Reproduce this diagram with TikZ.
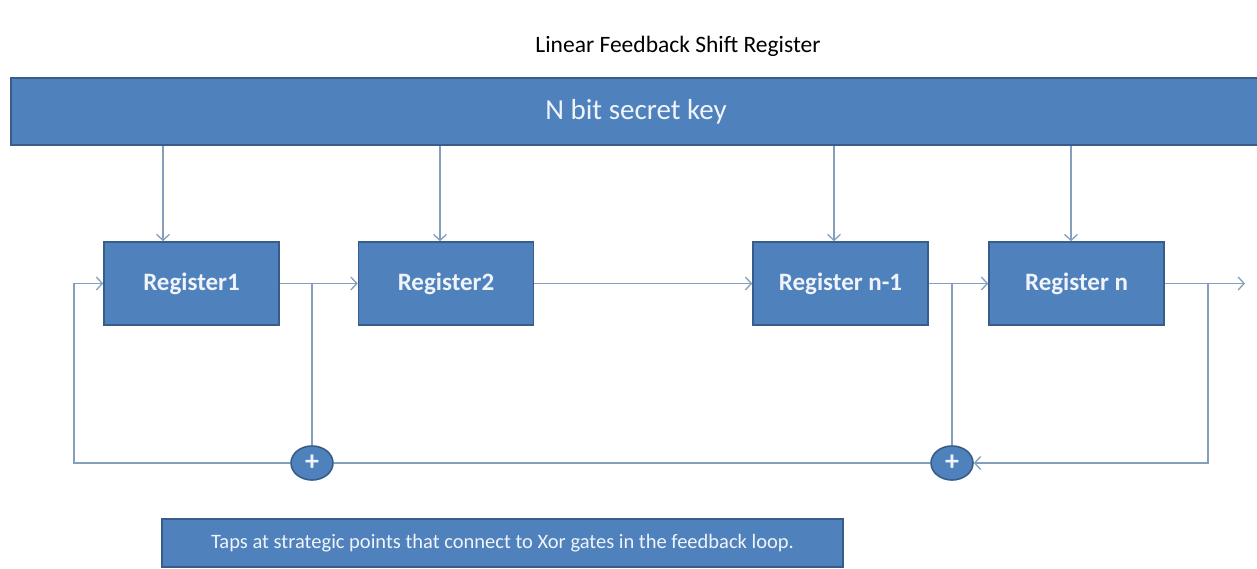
\documentclass[tikz,border=0pt]{standalone}
\usepackage{fontspec}
\setmainfont{Carlito}
\usetikzlibrary{arrows.meta,positioning,calc,shapes.geometric}
\definecolor{cFill}{RGB}{79,129,189}
\definecolor{cEdge}{RGB}{56,93,138}
\definecolor{cLine}{RGB}{132,158,188}
\definecolor{cText}{RGB}{240,244,250}
\tikzset{
  >={Straight Barb[length=6pt,width=13pt]},
  blk/.style={draw=cEdge,fill=cFill,line width=1.6pt,text=cText,inner sep=0pt},
  reg/.style={blk,minimum width=175pt,minimum height=83pt,
              font=\fontsize{25}{28}\selectfont\bfseries},
  xor/.style={blk,ellipse,minimum width=42pt,minimum height=34pt,
              font=\fontsize{28}{30}\selectfont\bfseries},
  link/.style={cLine,line width=1.3pt},
}

\begin{document}
\begin{tikzpicture}[x=1pt,y=-1pt]
  \useasboundingbox (0,0) rectangle (1257,569);
  \node[font=\fontsize{23.5}{26}\selectfont] (title) at (678,46) {Linear Feedback Shift Register};
  \node[blk,minimum width=1250pt,minimum height=67pt,
        font=\fontsize{29}{31}\selectfont] (key) at (636,111.5) {N bit secret key};

  \node[reg] (r1) at (191.5,283.5) {Register1};
  \node[reg] (r2) at (446,283.5)   {Register2};
  \node[reg] (r3) at (840.5,283.5) {Register n-1};
  \node[reg] (r4) at (1076.5,283.5){Register n};

  \node[xor] (x1) at (312,463) {+};
  \node[xor] (x2) at (952,463) {+};

  % key bits loaded into each register
  \foreach \r/\d in {r1/-28.5,r2/-6,r3/-6.5,r4/-5.5}{
    \coordinate (k\r) at ([xshift=\d]\r.north);
    \draw[link,->] (key.south -| k\r) -- (k\r);
  }

  % shift path
  \coordinate (out) at (1245,283.5);
  \coordinate (tap) at (1208,283.5);
  \coordinate (fb)  at (74,283.5);
  \draw[link,->] (r1) -- (r2);
  \draw[link,->] (r2) -- (r3);
  \draw[link,->] (r3) -- (r4);
  \draw[link,->] (r4) -- (out);

  % taps and feedback loop
  \draw[link] (x1 |- r1.east) -- (x1);
  \draw[link] (x2 |- r3.east) -- (x2);
  \draw[link,->] (tap) |- (x2);
  \draw[link] (x2) -- (x1);
  \draw[link,->] (x1) -| (fb) -- (r1);

  \node[blk,minimum width=681pt,minimum height=48pt,
        font=\fontsize{20.5}{23}\selectfont] (note) at (502.5,543)
    {Taps at strategic points that connect to Xor gates in the feedback loop.};
\end{tikzpicture}
\end{document}
